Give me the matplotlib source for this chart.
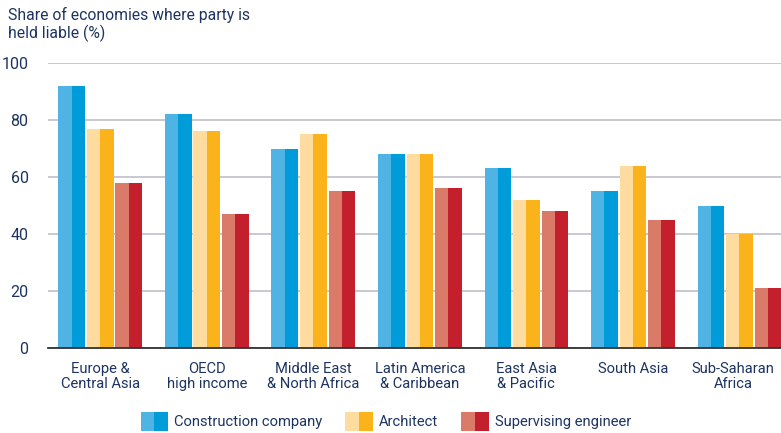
import numpy as np
import matplotlib.pyplot as plt
from matplotlib.patches import Patch, Rectangle
from matplotlib.legend_handler import HandlerBase

plt.rcParams['font.family'] = ['Roboto', 'DejaVu Sans']

categories = ['Europe &\nCentral Asia', 'OECD\nhigh income', 'Middle East\n& North Africa',
              'Latin America\n& Caribbean', 'East Asia\n& Pacific', 'South Asia', 'Sub-Saharan\nAfrica']
construction = [92, 82, 70, 68, 63, 55, 50]
architect = [77, 76, 75, 68, 52, 64, 40]
supervising = [58, 47, 55, 56, 48, 45, 21]
series_names = ['Construction company', 'Architect', 'Supervising engineer']

light = ['#4fb4e4', '#fedc9f', '#da7a68']
dark = ['#009cda', '#fab31a', '#c41f2d']
text_col = '#1d3461'


class TwoTone(HandlerBase):
    # legend square: light left half, dark right half
    def create_artists(self, legend, orig, xd, yd, width, height, fontsize, trans):
        full = Rectangle((-xd, -yd), width, height, facecolor=orig.dark, linewidth=0, transform=trans)
        half = Rectangle((-xd, -yd), width / 2, height, facecolor=orig.light, linewidth=0, transform=trans)
        return [full, half]


fig = plt.figure(figsize=(7.81, 4.33), dpi=100)
ax = fig.add_axes([0.0615, 0.1963, 0.9385, 0.6582])

x = np.arange(len(categories))
w = 0.25
gap = 0.018
for i, vals in enumerate([construction, architect, supervising]):
    off = (i - 1) * (w + gap)
    ax.bar(x + off, vals, w, color=dark[i], linewidth=0, zorder=3)
    ax.bar(x + off - w / 4, vals, w / 2, color=light[i], linewidth=0, zorder=3.1)

ax.set_xlim(-0.49, 6.39)
ax.set_ylim(0, 100)
ax.set_yticks([0, 20, 40, 60, 80, 100])
tick_pos = x.astype(float)
tick_pos[-1] -= 0.06  # last label sits a bit left so it stays inside
ax.set_xticks(tick_pos)
ax.set_xticklabels(categories, fontsize=10.6, color=text_col, linespacing=1.1)
ax.tick_params(axis='y', length=0, pad=14, labelsize=11.5, labelcolor=text_col)
ax.tick_params(axis='x', length=0, pad=10)
ax.grid(axis='y', color='#c4c4d0', linewidth=1.3, zorder=0)
for s in ['top', 'right', 'left']:
    ax.spines[s].set_visible(False)
ax.spines['bottom'].set_color('#333333')
ax.spines['bottom'].set_linewidth(1.3)
ax.spines['bottom'].set_zorder(4)

fig.text(0.01, 0.985, 'Share of economies where party is\nheld liable (%)', ha='left', va='top',
         fontsize=11.3, color=text_col, linespacing=1.2)

handles = []
for i in range(3):
    p = Patch()
    p.light, p.dark = light[i], dark[i]
    handles.append(p)
leg = fig.legend(handles, series_names, handler_map={Patch: TwoTone()},
                 loc='lower left', bbox_to_anchor=(0.163, -0.025), ncol=3, frameon=False,
                 fontsize=10.6, handlelength=1.85, handleheight=1.6, handletextpad=0.4,
                 columnspacing=1.6, labelcolor=text_col)

fig.savefig('out.png', dpi=100)
